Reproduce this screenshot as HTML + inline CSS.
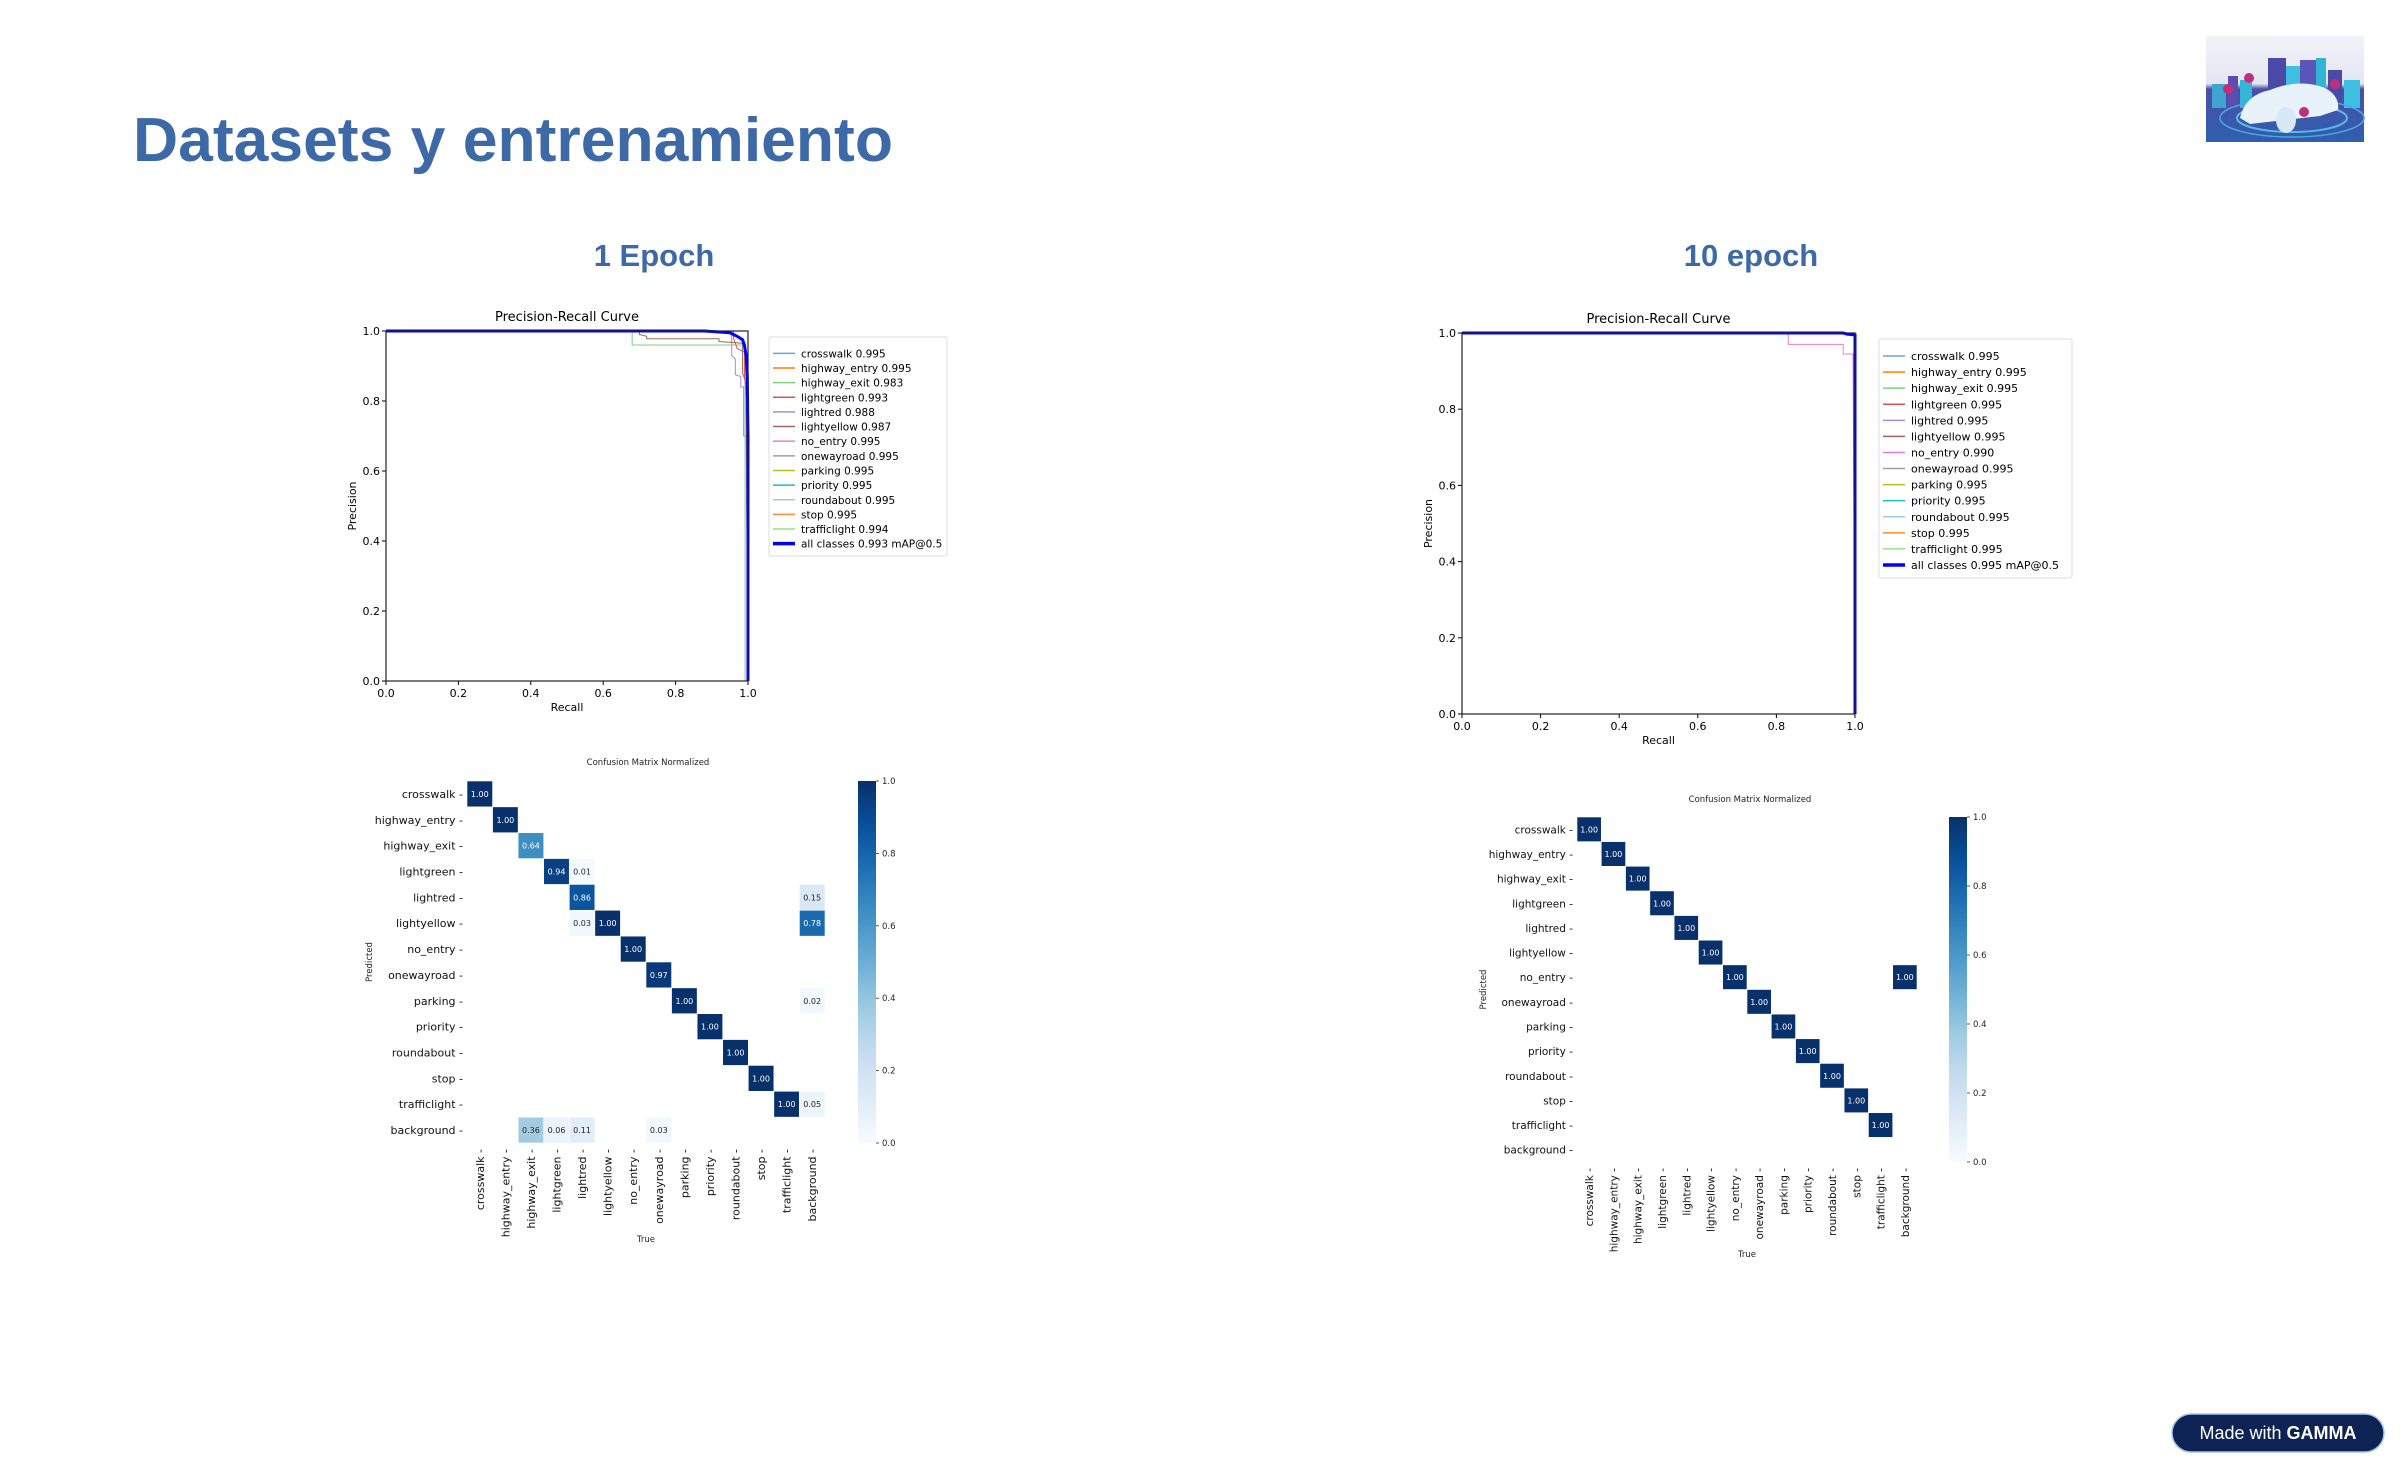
<!DOCTYPE html>
<html><head><meta charset="utf-8"><style>
html,body{margin:0;padding:0;background:#fff;}
svg{display:block;font-family:"DejaVu Sans","Liberation Sans",sans-serif;}
</style></head><body>
<svg id="root" width="2400" height="1468" viewBox="0 0 2400 1468" xmlns="http://www.w3.org/2000/svg">
<defs>
<linearGradient id="blues" x1="0" y1="1" x2="0" y2="0">
<stop offset="0" stop-color="#f7fbff"/><stop offset="0.125" stop-color="#deebf7"/><stop offset="0.25" stop-color="#c6dbef"/><stop offset="0.375" stop-color="#9ecae1"/><stop offset="0.5" stop-color="#6baed6"/><stop offset="0.625" stop-color="#4292c6"/><stop offset="0.75" stop-color="#2171b5"/><stop offset="0.875" stop-color="#08519c"/><stop offset="1" stop-color="#08306b"/>
</linearGradient>
<linearGradient id="logoSky" x1="0" y1="0" x2="0" y2="1"><stop offset="0" stop-color="#f2f2f8"/><stop offset="0.45" stop-color="#e4e6f2"/><stop offset="0.5" stop-color="#4b4fa8"/><stop offset="1" stop-color="#2f5fae"/></linearGradient>
</defs>
<text x="133" y="161" font-family="Liberation Sans, sans-serif" font-weight="bold" font-size="62" fill="#3d69a6" textLength="760" lengthAdjust="spacingAndGlyphs">Datasets y entrenamiento</text>
<text x="654" y="266" text-anchor="middle" font-family="Liberation Sans, sans-serif" font-weight="bold" font-size="31" fill="#3d69a6">1 Epoch</text>
<text x="1751" y="266" text-anchor="middle" font-family="Liberation Sans, sans-serif" font-weight="bold" font-size="31" fill="#3d69a6">10 epoch</text>

<g>
<rect x="2206" y="36" width="158" height="106" fill="url(#logoSky)"/>
<rect x="2212" y="84" width="14" height="24" fill="#3fa5d0"/><rect x="2228" y="76" width="10" height="32" fill="#5a4fb0"/>
<rect x="2240" y="80" width="12" height="28" fill="#35b6d8"/><rect x="2268" y="58" width="18" height="50" fill="#4a4aa8"/>
<rect x="2286" y="66" width="14" height="42" fill="#3fc0e0"/><rect x="2300" y="60" width="16" height="48" fill="#5a55b8"/>
<rect x="2316" y="58" width="10" height="50" fill="#30b5d5"/><rect x="2328" y="70" width="14" height="38" fill="#4a4aa8"/>
<rect x="2344" y="80" width="16" height="28" fill="#3fc0e0"/>
<ellipse cx="2292" cy="118" rx="55" ry="14" fill="none" stroke="#5ab8e8" stroke-width="2"/>
<ellipse cx="2292" cy="118" rx="72" ry="19" fill="none" stroke="#4aa8e0" stroke-width="1.5"/>
<path d="M2240 118 Q2245 95 2270 90 Q2300 78 2325 88 Q2340 96 2338 110 L2320 116 L2250 124 Z" fill="#e8f2fb"/>
<ellipse cx="2286" cy="120" rx="10" ry="13" fill="#d8e8f6"/>
<circle cx="2228" cy="89" r="5" fill="#c0307a"/><circle cx="2249" cy="78" r="5" fill="#c0307a"/><circle cx="2335" cy="84" r="5" fill="#c0307a"/><circle cx="2304" cy="112" r="5" fill="#c0307a"/>
</g>

<g>
<rect x="2172" y="1414" width="212" height="38" rx="19" fill="#0d2353" stroke="#9fc3ec" stroke-width="1.5"/>
<text x="2278" y="1439" text-anchor="middle" font-family="Liberation Sans, sans-serif" font-size="18" fill="#fff">Made with <tspan font-weight="bold">GAMMA</tspan></text>
</g>
<g id="charts"></g>
</svg>
<script>
const NS="http://www.w3.org/2000/svg";
// ---------- data ----------
const prClasses=["crosswalk","highway_entry","highway_exit","lightgreen","lightred","lightyellow","no_entry","onewayroad","parking","priority","roundabout","stop","trafficlight"];
const prColors=["#6aa5cf","#ff7f0e","#7fd07f","#e05050","#a98bd0","#9a6a5e","#f07ccc","#a0a0a0","#bcbd22","#17becf","#9ecae9","#ff8c33","#98df8a"];
const pr1Scores=["0.995","0.995","0.983","0.993","0.988","0.987","0.995","0.995","0.995","0.995","0.995","0.995","0.994"];
const pr1All="0.993";
const pr10Scores=["0.995","0.995","0.995","0.995","0.995","0.995","0.990","0.995","0.995","0.995","0.995","0.995","0.995"];
const pr10All="0.995";
const prTicks=[0,0.2,0.4,0.6,0.8,1.0];
const pr1Default=[[0,1],[0.995,1],[1,1],[1,0]];
const pr1HwExit=[[0,1],[0.68,1],[0.68,0.96],[0.992,0.96],[0.992,0.0]];
const pr1LightYellow=[[0,1],[0.70,1],[0.70,0.99],[0.72,0.985],[0.72,0.978],[0.92,0.978],[0.92,0.97],[0.985,0.965],[0.985,0.88],[0.995,0.85],[1,0]];
const pr1LightRed=[[0,1],[0.955,1],[0.955,0.93],[0.965,0.92],[0.965,0.875],[0.98,0.87],[0.98,0.84],[0.988,0.84],[0.988,0.70],[0.995,0.70],[1,0]];
const pr1LightGreen=[[0,1],[0.96,1],[0.96,0.98],[0.97,0.95],[0.99,0.94],[0.99,0.88],[0.995,0.81],[1,0]];
const pr1AllCurve=[[0,1],[0.88,1],[0.95,0.995],[0.97,0.985],[0.985,0.975],[0.99,0.96],[0.995,0.93],[0.998,0.87],[1.0,0.70],[1.0,0]];
const pr10NoEntry=[[0,1],[0.83,1],[0.83,0.97],[0.97,0.97],[0.97,0.945],[0.995,0.945],[1,0]];
const pr10Default=[[0,1],[0.998,1],[1,0.99],[1,0]];
const pr10AllCurve=[[0,1],[0.97,1],[0.98,0.997],[1,0.995],[1,0]];
const cmLabels=["crosswalk","highway_entry","highway_exit","lightgreen","lightred","lightyellow","no_entry","onewayroad","parking","priority","roundabout","stop","trafficlight","background"];
const cm1=[
[1.00,null,null,null,null,null,null,null,null,null,null,null,null,null],
[null,1.00,null,null,null,null,null,null,null,null,null,null,null,null],
[null,null,0.64,null,null,null,null,null,null,null,null,null,null,null],
[null,null,null,0.94,0.01,null,null,null,null,null,null,null,null,null],
[null,null,null,null,0.86,null,null,null,null,null,null,null,null,0.15],
[null,null,null,null,0.03,1.00,null,null,null,null,null,null,null,0.78],
[null,null,null,null,null,null,1.00,null,null,null,null,null,null,null],
[null,null,null,null,null,null,null,0.97,null,null,null,null,null,null],
[null,null,null,null,null,null,null,null,1.00,null,null,null,null,0.02],
[null,null,null,null,null,null,null,null,null,1.00,null,null,null,null],
[null,null,null,null,null,null,null,null,null,null,1.00,null,null,null],
[null,null,null,null,null,null,null,null,null,null,null,1.00,null,null],
[null,null,null,null,null,null,null,null,null,null,null,null,1.00,0.05],
[null,null,0.36,0.06,0.11,null,null,0.03,null,null,null,null,null,null]];
const cm10=[
[1.00,null,null,null,null,null,null,null,null,null,null,null,null,null],
[null,1.00,null,null,null,null,null,null,null,null,null,null,null,null],
[null,null,1.00,null,null,null,null,null,null,null,null,null,null,null],
[null,null,null,1.00,null,null,null,null,null,null,null,null,null,null],
[null,null,null,null,1.00,null,null,null,null,null,null,null,null,null],
[null,null,null,null,null,1.00,null,null,null,null,null,null,null,null],
[null,null,null,null,null,null,1.00,null,null,null,null,null,null,1.00],
[null,null,null,null,null,null,null,1.00,null,null,null,null,null,null],
[null,null,null,null,null,null,null,null,1.00,null,null,null,null,null],
[null,null,null,null,null,null,null,null,null,1.00,null,null,null,null],
[null,null,null,null,null,null,null,null,null,null,1.00,null,null,null],
[null,null,null,null,null,null,null,null,null,null,null,1.00,null,null],
[null,null,null,null,null,null,null,null,null,null,null,null,1.00,null],
[null,null,null,null,null,null,null,null,null,null,null,null,null,null]];
const cbTicks=[0,0.2,0.4,0.6,0.8,1.0];

const root=document.getElementById("charts");
function el(tag,attrs,parent){const e=document.createElementNS(NS,tag);for(const k in attrs)e.setAttribute(k,attrs[k]);(parent||root).appendChild(e);return e;}
function txt(s,attrs,parent){const t=el("text",attrs,parent);t.textContent=s;return t;}
const bluesStops=[[0,[247,251,255]],[0.125,[222,235,247]],[0.25,[198,219,239]],[0.375,[158,202,225]],[0.5,[107,174,214]],[0.625,[66,146,198]],[0.75,[33,113,181]],[0.875,[8,81,156]],[1,[8,48,107]]];
function blues(v){for(let i=1;i<bluesStops.length;i++){if(v<=bluesStops[i][0]){const a=bluesStops[i-1],b=bluesStops[i];const t=(v-a[0])/(b[0]-a[0]);const c=a[1].map((x,j)=>Math.round(x+(b[1][j]-x)*t));return "rgb("+c.join(",")+")";}}return "rgb(8,48,107)";}

function drawPR(name,box,curves,scores,allScore,leg){
  const g=el("g",{});
  
  
  const sx=v=>box.x+v*(box.w), sy=v=>box.y+box.h-v*box.h;
  txt("Precision-Recall Curve",{x:box.x+box.w/2,y:box.y-10,"text-anchor":"middle","font-size":13,fill:"#000"},g);
  prTicks.forEach(t=>{
    el("line",{x1:sx(t),x2:sx(t),y1:box.y+box.h,y2:box.y+box.h+4,stroke:"#000","stroke-width":1},g);
    const lx=txt(t.toFixed(1),{x:sx(t),y:box.y+box.h+16,"text-anchor":"middle","font-size":11,fill:"#000"},g);
    
    
    el("line",{x1:box.x-4,x2:box.x,y1:sy(t),y2:sy(t),stroke:"#000","stroke-width":1},g);
    const ly=txt(t.toFixed(1),{x:box.x-6,y:sy(t)+4,"text-anchor":"end","font-size":11,fill:"#000"},g);
    
    
  });
  const xt=txt("Recall",{x:box.x+box.w/2,y:box.y+box.h+30,"text-anchor":"middle","font-size":11,fill:"#000"},g);
  
  
  const yt=txt("Precision",{x:0,y:0,"text-anchor":"middle","font-size":11,fill:"#000",transform:"translate("+(box.x-30)+","+(box.y+box.h/2)+") rotate(-90)"},g);
  
  
  curves.forEach((c,i)=>{
    const p=el("polyline",{points:c.pts.map(q=>sx(q[0])+","+sy(q[1])).join(" "),fill:"none",stroke:c.color,"stroke-width":c.w},g);
    
    
  });
  el("rect",{x:box.x,y:box.y,width:box.w,height:box.h,fill:"none",stroke:"#222","stroke-width":1.2},g);
  const lg=el("g",{},g);
  
  
  el("rect",{x:leg.x,y:leg.y,width:leg.w,height:leg.h,fill:"#fff",stroke:"#ddd","stroke-width":1,rx:2},lg);
  const n=prClasses.length+1, step=(leg.h-14)/n;
  for(let i=0;i<n;i++){
    const y=leg.y+9+step*(i+0.5);
    const isAll=i==prClasses.length;
    const e=el("g",{},lg);
    
    
    el("line",{x1:leg.x+4,x2:leg.x+26,y1:y,y2:y,stroke:isAll?"#0000ff":prColors[i],"stroke-width":isAll?3.5:1.5},e);
    txt(isAll?("all classes "+allScore+" mAP@0.5"):(prClasses[i]+" "+scores[i]),{x:leg.x+32,y:y+4,"font-size":leg.fs,fill:"#000"},e);
  }
}

function buildCurves(special,def,all){
  const cs=prClasses.map((c,i)=>({label:c,color:prColors[i],w:1,pts:special[c]||def}));
  cs.push({label:"all-classes",color:"#0000ff",w:3,pts:all});
  return cs;
}

drawPR("pr-curve-epoch1",{x:386,y:331,w:362,h:350},
  buildCurves({highway_exit:pr1HwExit,lightyellow:pr1LightYellow,lightred:pr1LightRed,lightgreen:pr1LightGreen},pr1Default,pr1AllCurve),
  pr1Scores,pr1All,{x:769,y:337,w:178,h:219,fs:10.5});
drawPR("pr-curve-epoch10",{x:1462,y:333,w:393,h:381},
  buildCurves({no_entry:pr10NoEntry},pr10Default,pr10AllCurve),
  pr10Scores,pr10All,{x:1879,y:339,w:193,h:239,fs:11});

function drawCM(name,box,data,cb,o){
  const g=el("g",{});
  
  
  const n=cmLabels.length, cw=box.w/n, ch=box.h/n;
  txt("Confusion Matrix Normalized",{x:o.titleX,y:o.titleY,"text-anchor":"middle","font-size":8.5,fill:"#222"},g);
  data.forEach((row,r)=>row.forEach((v,c)=>{
    if(v===null)return;
    const cell=el("rect",{x:box.x+c*cw,y:box.y+r*ch,width:cw,height:ch,fill:blues(v),stroke:"#fff","stroke-width":0.6},g);
    
    
    txt(v.toFixed(2),{x:box.x+(c+0.5)*cw,y:box.y+(r+0.5)*ch+3,"text-anchor":"middle","font-size":8,fill:v>0.5?"#fff":"#222"},g);
  }));
  cmLabels.forEach((l,i)=>{
    const rl=txt(l+" -",{x:box.x-4,y:box.y+(i+0.5)*ch+4,"text-anchor":"end","font-size":o.fs,fill:"#111"},g);
    
    
    const cx=box.x+(i+0.5)*cw+4, cy=box.y+box.h+6;
    const cl=txt(l+" -",{x:0,y:0,"text-anchor":"end","font-size":o.fs,fill:"#111",transform:"translate("+cx+","+cy+") rotate(-90)"},g);
    
    
  });
  const pt=txt("Predicted",{x:0,y:0,"text-anchor":"middle","font-size":8.5,fill:"#222",transform:"translate("+o.predX+","+(box.y+box.h/2)+") rotate(-90)"},g);
  
  
  const tt=txt("True",{x:box.x+box.w/2,y:o.trueY,"text-anchor":"middle","font-size":8.5,fill:"#222"},g);
  
  
  const bar=el("rect",{x:cb.x,y:box.y,width:cb.w,height:box.h,fill:"url(#blues)"},g);
  
  
  cbTicks.forEach(t=>{
    const y=box.y+box.h-t*box.h;
    el("line",{x1:cb.x+cb.w,x2:cb.x+cb.w+3,y1:y,y2:y,stroke:"#333","stroke-width":0.8},g);
    txt(t.toFixed(1),{x:cb.x+cb.w+6,y:y+3,"font-size":8.5,fill:"#222"},g);
  });
}
drawCM("confusion-matrix-epoch1",{x:467,y:781,w:358,h:362},cm1,{x:858,w:18},{titleX:648,titleY:765,predX:372,trueY:1242,fs:11});
drawCM("confusion-matrix-epoch10",{x:1577,y:817,w:340,h:345},cm10,{x:1949,w:18},{titleX:1750,titleY:802,predX:1486,trueY:1257,fs:10.5});
</script>
</body></html>
